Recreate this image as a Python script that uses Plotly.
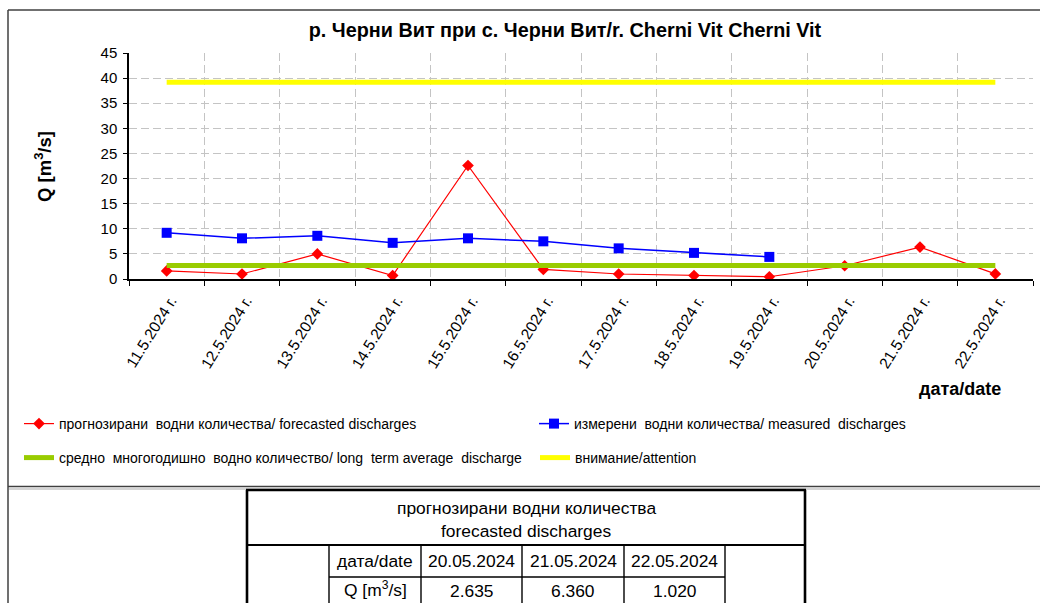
import plotly.graph_objects as go

# ---------------- data ----------------
dates = ["11.5.2024 г.", "12.5.2024 г.", "13.5.2024 г.", "14.5.2024 г.", "15.5.2024 г.",
         "16.5.2024 г.", "17.5.2024 г.", "18.5.2024 г.", "19.5.2024 г.", "20.5.2024 г.",
         "21.5.2024 г.", "22.5.2024 г."]
forecast = [1.6, 1.0, 5.0, 0.7, 22.6, 1.9, 1.0, 0.7, 0.45, 2.635, 6.36, 1.02]
measured = [9.2, 8.1, 8.6, 7.2, 8.1, 7.5, 6.1, 5.2, 4.4, None, None, None]
long_term_avg = [2.7, 2.7, 2.7, 2.7, 2.7, 2.7, 2.7, 2.7, 2.7, 2.7, 2.7, 2.7]
attention = [39.2, 39.2, 39.2, 39.2, 39.2, 39.2, 39.2, 39.2, 39.2, 39.2, 39.2, 39.2]

y_ticks = [0, 5, 10, 15, 20, 25, 30, 35, 40, 45]

table_title = ["прогнозирани водни количества", "forecasted discharges"]
table_dates = ["20.05.2024", "21.05.2024", "22.05.2024"]
table_q = ["2.635", "6.360", "1.020"]
table_row_labels = ["дата/date", "Q [m<sup>3</sup>/s]"]

names = ["прогнозирани\u00a0 водни количества/ forecasted discharges",
         "измерени\u00a0 водни количества/ measured\u00a0 discharges",
         "средно\u00a0 многогодишно\u00a0 водно количество/ long\u00a0 term average\u00a0 discharge",
         "внимание/attention"]

# ---------------- layout geometry (pixels) ----------------
W, H = 1040, 603
L, R, T, B = 129, 1033, 53, 279
FONT = "Liberation Sans, Arial, sans-serif"


def px(x):
    return (x - L) / (R - L)


def py(y):
    return (B - y) / (B - T)


fig = go.Figure()
fig.add_trace(go.Scatter(x=dates, y=forecast, mode="lines+markers", name=names[0],
                         line=dict(color="#ff0000", width=1.2),
                         marker=dict(symbol="diamond", size=9, color="#ff0000"),
                         legend="legend"))
fig.add_trace(go.Scatter(x=dates, y=measured, mode="lines+markers", name=names[1],
                         line=dict(color="#0000ff", width=1.5),
                         marker=dict(symbol="square", size=10, color="#0000ff"),
                         legend="legend2"))
fig.add_trace(go.Scatter(x=dates, y=long_term_avg, mode="lines", name=names[2],
                         line=dict(color="#99cc00", width=5), legend="legend3"))
fig.add_trace(go.Scatter(x=dates, y=attention, mode="lines", name=names[3],
                         line=dict(color="#ffff00", width=5), legend="legend4"))

shapes = []
# chart frame
shapes.append(dict(type="line", xref="paper", yref="paper", x0=px(8), x1=px(1045), y0=py(10), y1=py(10),
                   line=dict(color="#404040", width=1.5), layer="below"))
shapes.append(dict(type="line", xref="paper", yref="paper", x0=px(8), x1=px(8), y0=py(10), y1=py(610),
                   line=dict(color="#404040", width=1.5), layer="below"))
shapes.append(dict(type="line", xref="paper", yref="paper", x0=px(8), x1=px(1045), y0=py(486.5), y1=py(486.5),
                   line=dict(color="#404040", width=1.5), layer="below"))
shapes.append(dict(type="line", xref="paper", yref="paper", x0=px(9), x1=px(1045), y0=py(489), y1=py(489),
                   line=dict(color="#d4d4d4", width=2), layer="below"))

# table borders
thick = dict(color="#000000", width=2.6)
thin = dict(color="#000000", width=1.4)
shapes.append(dict(type="line", xref="paper", yref="paper", x0=px(246), x1=px(806), y0=py(490), y1=py(490), line=thick))
shapes.append(dict(type="line", xref="paper", yref="paper", x0=px(247), x1=px(247), y0=py(490), y1=py(610), line=thick))
shapes.append(dict(type="line", xref="paper", yref="paper", x0=px(805), x1=px(805), y0=py(490), y1=py(610), line=thick))
shapes.append(dict(type="line", xref="paper", yref="paper", x0=px(247), x1=px(805), y0=py(545), y1=py(545), line=dict(color="#000000", width=2)))
for xv in [329, 421, 522, 624, 725]:
    shapes.append(dict(type="line", xref="paper", yref="paper", x0=px(xv), x1=px(xv), y0=py(545), y1=py(610), line=thin))
shapes.append(dict(type="line", xref="paper", yref="paper", x0=px(329), x1=px(725), y0=py(577), y1=py(577), line=thin))

annotations = []
# axis titles
annotations.append(dict(text="<b>Q [m<sup>3</sup>/s]</b>", xref="paper", yref="paper", x=px(43), y=py(167),
                        textangle=-90, showarrow=False, font=dict(family=FONT, size=18.5, color="#000000"),
                        xanchor="center", yanchor="middle"))
annotations.append(dict(text="<b>дата/date</b>", xref="paper", yref="paper", x=px(960), y=py(389),
                        showarrow=False, font=dict(family=FONT, size=18, color="#000000"),
                        xanchor="center", yanchor="middle"))
# table texts
tfont = dict(family=FONT, size=17.4, color="#000000")
annotations.append(dict(text=table_title[0], xref="paper", yref="paper", x=px(526), y=py(508),
                        showarrow=False, font=tfont, xanchor="center", yanchor="middle"))
annotations.append(dict(text=table_title[1], xref="paper", yref="paper", x=px(526), y=py(531),
                        showarrow=False, font=tfont, xanchor="center", yanchor="middle"))
annotations.append(dict(text=table_row_labels[0], xref="paper", yref="paper", x=px(375), y=py(561),
                        showarrow=False, font=tfont, xanchor="center", yanchor="middle"))
annotations.append(dict(text=table_row_labels[1], xref="paper", yref="paper", x=px(375), y=py(589),
                        showarrow=False, font=tfont, xanchor="center", yanchor="middle"))
col_centers = [471.5, 573, 674.5]
for c, d, q in zip(col_centers, table_dates, table_q):
    annotations.append(dict(text=d, xref="paper", yref="paper", x=px(c), y=py(561),
                            showarrow=False, font=tfont, xanchor="center", yanchor="middle"))
    annotations.append(dict(text=q, xref="paper", yref="paper", x=px(c), y=py(591),
                            showarrow=False, font=tfont, xanchor="center", yanchor="middle"))


def legend_box(xpix, ypix):
    return dict(orientation="h", xref="container", yref="container",
                x=xpix / W, xanchor="left", y=1 - ypix / H, yanchor="middle",
                font=dict(family=FONT, size=14, color="#000000"),
                bgcolor="rgba(0,0,0,0)", borderwidth=0,
                itemclick=False, itemdoubleclick=False)


fig.update_layout(
    width=W, height=H, autosize=False,
    margin=dict(l=L, r=W - R, t=T, b=H - B, pad=0),
    paper_bgcolor="white", plot_bgcolor="white",
    font=dict(family=FONT, color="#000000"),
    title=dict(text="<b>р. Черни Вит при с. Черни Вит/r. Cherni Vit Cherni Vit</b>",
               x=565 / W, xref="container", xanchor="center",
               y=1 - 30 / H, yref="container", yanchor="middle",
               font=dict(family=FONT, size=19.8, color="#000000")),
    xaxis=dict(type="category", categoryorder="array", categoryarray=dates,
               range=[-0.5, 11.5], tickson="boundaries",
               showgrid=True, gridcolor="#c4c4c4", gridwidth=1, griddash="8px,4px",
               ticks="outside", ticklen=5, tickcolor="#000000", tickwidth=1,
               showline=True, linecolor="#000000", linewidth=1.5,
               tickangle=-58, tickfont=dict(family=FONT, size=15.5, color="#000000"),
               ticklabelshift=4, ticklabelstandoff=5,
               fixedrange=True),
    yaxis=dict(range=[0, 45], tickvals=y_ticks, ticktext=[str(v) for v in y_ticks],
               showgrid=True, gridcolor="#c4c4c4", gridwidth=1, griddash="8px,4px",
               ticks="outside", ticklen=4, tickcolor="#000000",
               showline=True, linecolor="#000000", linewidth=1.5, zeroline=False,
               ticklabelstandoff=3,
               tickfont=dict(family=FONT, size=15, color="#000000"), fixedrange=True),
    legend=legend_box(19, 424),
    legend2=legend_box(534, 424),
    legend3=legend_box(19, 458),
    legend4=legend_box(535, 458),
    shapes=shapes,
    annotations=annotations,
    showlegend=True,
)

fig.write_html("out.html", config={"displayModeBar": False},
               post_script="document.body.style.margin='0';document.body.style.overflow='hidden';")
